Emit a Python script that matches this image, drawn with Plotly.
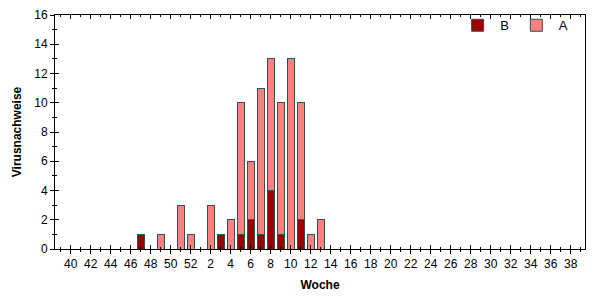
import plotly.graph_objects as go

# Weeks of the season (KW 40 .. 52, 1 .. 39)
weeks = list(range(40, 53)) + list(range(1, 40))
tick_weeks = [w for w in weeks if w % 2 == 0]

# Counts per week
b_counts = {47: 1, 3: 1, 5: 1, 6: 2, 7: 1, 8: 4, 9: 1, 11: 2}
a_counts = {49: 1, 51: 3, 52: 1, 2: 3, 4: 2, 5: 9, 6: 4, 7: 10, 8: 9, 9: 9,
            10: 13, 11: 8, 12: 1, 13: 2}

series_b = [b_counts.get(w, 0) for w in weeks]
series_a = [a_counts.get(w, 0) for w in weeks]

x_idx = list(range(len(weeks)))
tick_idx = [weeks.index(w) for w in tick_weeks]
tick_text = [str(w) for w in tick_weeks]

FONT = "Liberation Sans, Arial, sans-serif"
OUTLINE = "#2f5252"

fig = go.Figure()
fig.add_trace(go.Bar(x=x_idx, y=series_b, name="B", width=0.7,
                     marker=dict(color="#990000", line=dict(color=OUTLINE, width=1))))
fig.add_trace(go.Bar(x=x_idx, y=series_a, name="A", width=0.7,
                     marker=dict(color="#ff8080", line=dict(color=OUTLINE, width=1))))
# empty helper traces for overlay axes (inside ticks)
fig.add_trace(go.Scatter(x=[], y=[], xaxis="x2", yaxis="y2", showlegend=False, hoverinfo="skip"))

xr = [-1.57, 51.43]
yr = [0, 16]

fig.update_layout(
    width=602, height=300,
    margin=dict(l=55, r=17, t=8, b=51),
    paper_bgcolor="white", plot_bgcolor="white",
    barmode="stack", bargap=0.3,
    font=dict(family=FONT, size=12, color="black"),
    showlegend=True,
    legend=dict(orientation="h", x=0.755, y=1.02, xanchor="left", yanchor="top",
                bgcolor="rgba(0,0,0,0)", font=dict(size=13), traceorder="normal",
                itemwidth=35),
    xaxis=dict(range=xr, tickmode="array", tickvals=tick_idx, ticktext=tick_text,
               ticks="outside", ticklen=4, tickwidth=1, tickcolor="black",
               minor=dict(dtick=1, tick0=0, ticks="outside", ticklen=2, tickcolor="black", showgrid=False),
               showline=True, linecolor="black", linewidth=1, mirror=True,
               showgrid=False, zeroline=False,
               title=dict(text="<b>Woche</b>", font=dict(size=12), standoff=10),
               tickfont=dict(size=12)),
    yaxis=dict(range=yr, dtick=2, tick0=0,
               ticks="outside", ticklen=4, tickwidth=1, tickcolor="black",
               minor=dict(dtick=1, ticks="outside", ticklen=2, tickcolor="black", showgrid=False),
               showline=True, linecolor="black", linewidth=1, mirror=True,
               showgrid=False, zeroline=False,
               title=dict(text="<b>Virusnachweise</b>", font=dict(size=12), standoff=10),
               tickfont=dict(size=12)),
    xaxis2=dict(overlaying="x", anchor="y", range=xr, side="bottom",
                tickmode="array", tickvals=tick_idx, showticklabels=False,
                ticks="inside", ticklen=4, tickcolor="black",
                minor=dict(dtick=1, tick0=0, ticks="inside", ticklen=2, tickcolor="black", showgrid=False),
                mirror="allticks", showline=False, showgrid=False, zeroline=False),
    yaxis2=dict(overlaying="y", anchor="x", range=yr, side="left", dtick=2, tick0=0,
                showticklabels=False, ticks="inside", ticklen=4, tickcolor="black",
                minor=dict(dtick=1, ticks="inside", ticklen=2, tickcolor="black", showgrid=False),
                showline=False, showgrid=False, zeroline=False),
)

fig.write_html("out.html")
